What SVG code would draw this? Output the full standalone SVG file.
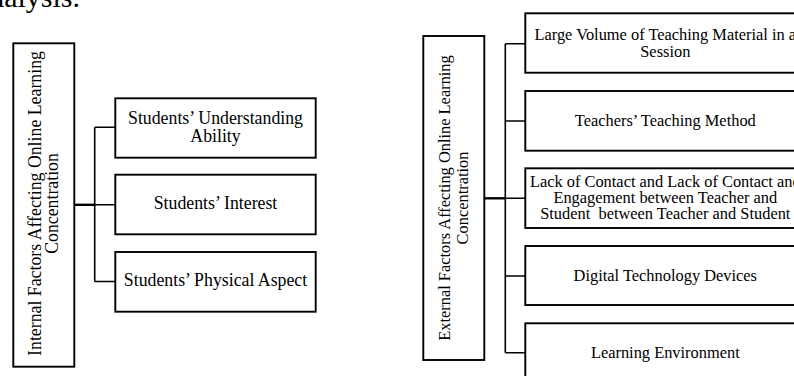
<svg xmlns="http://www.w3.org/2000/svg" width="794" height="376" viewBox="0 0 794 376">
<style>
  text { font-family: "Liberation Serif", "Times New Roman", serif; fill: #000; }
  .box { fill: #fff; stroke: #000; stroke-width: 1.9; }
  .l { font-size: 17.8px; text-anchor: middle; }
  .r { font-size: 16.4px; text-anchor: middle; }
  .conn { fill: none; stroke: #000; stroke-width: 1.6; }
  .trunk { fill: none; stroke: #000; stroke-width: 2.4; }
</style>
<rect width="794" height="376" fill="#fff"/>
<text x="80" y="7" style="font-size:30px;text-anchor:end">analysis.</text>

<g id="connectors">
  <path class="trunk" d="M74.3 204.8 H94.7"/>
  <path class="conn" d="M94.7 127.3 V281.5 M94.7 127.3 H115.3 M94.7 204.8 H115.3 M94.7 281.5 H115.3"/>
  <path class="trunk" d="M484.3 198.3 H505.3"/>
  <path class="conn" d="M505.3 43.7 V352.7 M505.3 43.7 H525.3 M505.3 121 H525.3 M505.3 198.3 H525.3 M505.3 276 H525.3 M505.3 352.7 H525.3"/>
</g>

<g id="internal">
  <rect class="box" x="13.3" y="43.3" width="61" height="323.4"/>
  <g transform="translate(43.8 203.5) rotate(-90)">
    <text class="l" x="0" y="-3.3">Internal Factors Affecting Online Learning</text>
    <text class="l" x="0" y="14.3">Concentration</text>
  </g>
</g>
<g id="understanding">
  <rect class="box" x="115.3" y="98.3" width="200.4" height="59.4"/>
  <text class="l" x="215.5" y="124">Students’ Understanding</text>
  <text class="l" x="215.5" y="141.7">Ability</text>
</g>
<g id="interest">
  <rect class="box" x="115.3" y="174.7" width="200.4" height="59.6"/>
  <text class="l" x="215.5" y="208.5">Students’ Interest</text>
</g>
<g id="physical">
  <rect class="box" x="115.3" y="252" width="200.4" height="59.7"/>
  <text class="l" x="215.5" y="286">Students’ Physical Aspect</text>
</g>

<g id="external">
  <rect class="box" x="423.3" y="36" width="61" height="324"/>
  <g transform="translate(453.8 198) rotate(-90)">
    <text class="r" x="0" y="-4">External Factors Affecting Online Learning</text>
    <text class="r" x="0" y="13.7">Concentration</text>
  </g>
</g>
<g id="volume">
  <rect class="box" x="525.3" y="13.3" width="282" height="59.4"/>
  <text class="r" x="665.3" y="40">Large Volume of Teaching Material in a</text>
  <text class="r" x="665.3" y="56.6">Session</text>
</g>
<g id="method">
  <rect class="box" x="525.3" y="91" width="282" height="59.7"/>
  <text class="r" x="665.3" y="126.3">Teachers’ Teaching Method</text>
</g>
<g id="contact">
  <rect class="box" x="525.3" y="168.3" width="282" height="59.7"/>
  <text class="r" x="665.3" y="187.3">Lack of Contact and Lack of Contact and</text>
  <text class="r" x="665.3" y="203.3">Engagement between Teacher and</text>
  <text class="r" x="665.3" y="219.2" style="white-space:pre">Student  between Teacher and Student</text>
</g>
<g id="devices">
  <rect class="box" x="525.3" y="246" width="282" height="59"/>
  <text class="r" x="665.3" y="281.3">Digital Technology Devices</text>
</g>
<g id="environment">
  <rect class="box" x="525.3" y="323.3" width="282" height="59.7"/>
  <text class="r" x="665.3" y="358">Learning Environment</text>
</g>
</svg>
